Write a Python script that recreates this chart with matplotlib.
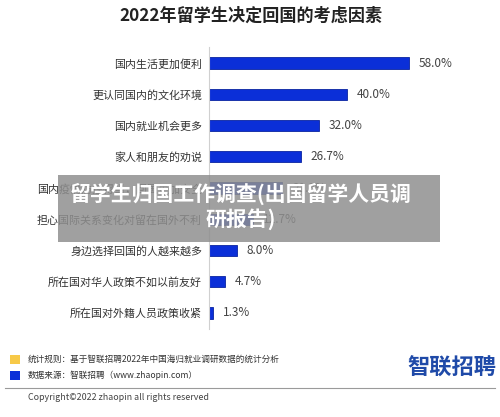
import matplotlib
matplotlib.use("Agg")
import matplotlib.pyplot as plt
from matplotlib.patches import Rectangle

plt.rcParams["font.family"] = ["Noto Sans CJK SC", "DejaVu Sans"]

# data (rows 5-6 are partly hidden behind the banner)
categories = [
    "国内生活更加便利",
    "更认同国内的文化环境",
    "国内就业机会更多",
    "家人和朋友的劝说",
    "国内疫情防控得当，回国更加安全",
    "担心国际关系变化对留在国外不利",
    "身边选择回国的人越来越多",
    "所在国对华人政策不如以前友好",
    "所在国对外籍人员政策收紧",
]
shares = [58.0, 40.0, 32.0, 26.7, 21.3, 12.7, 8.0, 4.7, 1.3]

title = "2022年留学生决定回国的考虑因素"
banner = "留学生归国工作调查(出国留学人员调\n研报告)"
note_rule = "统计规则：基于智联招聘2022年中国海归就业调研数据的统计分析"
note_source = "数据来源：智联招聘（www.zhaopin.com）"
copyright_txt = "Copyright©2022 zhaopin all rights reserved"
logo = "智联招聘"

W, H = 500, 417
BLUE = "#0b2fd8"

fig = plt.figure(figsize=(W / 100, H / 100), dpi=100)
fig.patch.set_facecolor("white")


def fx(px):
    return px / W


def fy(py):
    return 1 - py / H


fig.text(fx(251), fy(16), title, ha="center", va="center", fontsize=12.3,
         fontweight="bold", color="#222222")

ax = fig.add_axes([fx(209), fy(328.6), fx(276), fy(47.4) - fy(328.6)])
ys = range(len(categories))
ax.barh(ys, shares, height=0.36, color=BLUE, edgecolor="#0a24a0", linewidth=0.6)
ax.set_xlim(0, 80)
ax.set_ylim(len(categories) - 0.5, -0.5)
ax.set_yticks(list(ys))
ax.set_yticklabels(categories, fontsize=7.9, color="#333333")
ax.tick_params(axis="y", length=0, pad=5)
ax.set_xticks([])
for s in ("top", "right", "bottom"):
    ax.spines[s].set_visible(False)
ax.spines["left"].set_color("#d0d0d0")
ax.spines["left"].set_linewidth(0.8)
for y, v in zip(ys, shares):
    ax.annotate(f"{v:.1f}%", (v, y), xytext=(7, 0), textcoords="offset points",
                va="center", ha="left", fontsize=8.5, color="#444444")

# grey banner across the middle
fig.patches.append(Rectangle((fx(58), fy(242)), fx(382), fy(175) - fy(242),
                             transform=fig.transFigure, facecolor="#8f8f8f",
                             alpha=0.85, edgecolor="none", zorder=5))
fig.text(fx(241), fy(206), banner, ha="center", va="center", fontsize=15,
         fontweight="bold", color="white", linespacing=1.2, zorder=6)

# footer
fig.patches.append(Rectangle((fx(10), fy(364)), fx(10), fy(355) - fy(364),
                             transform=fig.transFigure, facecolor="#f7c948",
                             edgecolor="none"))
fig.patches.append(Rectangle((fx(10), fy(380)), fx(10), fy(371) - fy(380),
                             transform=fig.transFigure, facecolor=BLUE,
                             edgecolor="none"))
fig.text(fx(28), fy(359.5), note_rule, ha="left", va="center", fontsize=6.2,
         color="#333333")
fig.text(fx(28), fy(375.5), note_source, ha="left", va="center", fontsize=6.2,
         color="#333333")
fig.text(fx(452), fy(368), logo, ha="center", va="center", fontsize=16,
         fontweight="bold", color="#1f4aa8")
fig.add_artist(plt.Line2D([fx(5), fx(495)], [fy(388), fy(388)],
                          transform=fig.transFigure, color="#9a9a9a",
                          linewidth=0.8))
fig.text(fx(28), fy(397), copyright_txt, ha="left", va="center", fontsize=6.4,
         color="#444444")

fig.savefig("out.png", dpi=100)
